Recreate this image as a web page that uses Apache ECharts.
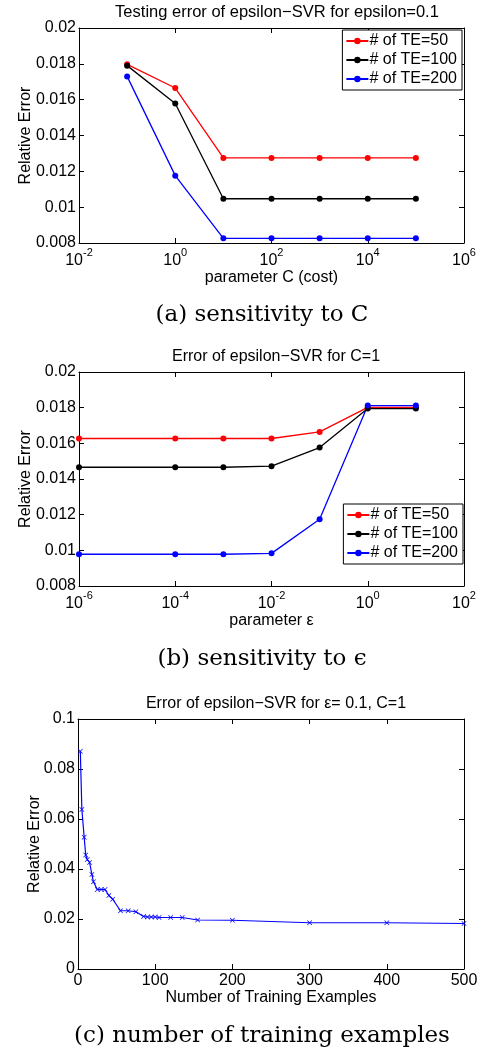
<!DOCTYPE html>
<html>
<head>
<meta charset="utf-8">
<script src="https://cdn.jsdelivr.net/npm/echarts@6/dist/echarts.min.js"></script>
<style>
html, body { margin: 0; padding: 0; background: #ffffff; }
#main { width: 481px; height: 1051px; }
</style>
</head>
<body>
<div id="main"></div>
<script>
// (a) sensitivity to C
const costC = [0.1, 1, 10, 100, 1000, 10000, 100000];
const errC_TE50 = [0.01797, 0.01665, 0.01275, 0.01275, 0.01275, 0.01275, 0.01275];
const errC_TE100 = [0.0179, 0.01579, 0.01047, 0.01047, 0.01047, 0.01047, 0.01047];
const errC_TE200 = [0.0173, 0.01176, 0.00826, 0.00826, 0.00826, 0.00826, 0.00826];

// (b) sensitivity to epsilon
const epsVals = [1e-6, 1e-4, 1e-3, 1e-2, 1e-1, 1, 10];
const errE_TE50 = [0.01627, 0.01627, 0.01627, 0.01627, 0.01664, 0.01802, 0.01802];
const errE_TE100 = [0.01466, 0.01466, 0.01466, 0.01472, 0.01576, 0.01795, 0.01795];
const errE_TE200 = [0.00978, 0.00978, 0.00978, 0.00983, 0.01174, 0.01812, 0.01812];

// (c) number of training examples
const nTrain = [3, 5, 8, 10, 12, 15, 18, 20, 25, 30, 35, 40, 45, 55, 65, 75, 85, 90, 95, 100, 105, 120, 135, 155, 200, 300, 400, 500];
const errN = [0.0871, 0.0638, 0.0527, 0.0456, 0.0438, 0.0426, 0.0378, 0.0349, 0.0318, 0.0318, 0.0318, 0.0294, 0.0279, 0.0233, 0.0233, 0.0229, 0.021, 0.0208, 0.0208, 0.0208, 0.0206, 0.0206, 0.0206, 0.0196, 0.0195, 0.0185, 0.0185, 0.0182];

const teNames = ["# of TE=50", "# of TE=100", "# of TE=200"];
const teColors = ["#ff0000", "#000000", "#0000ff"];

const SANS = "Liberation Sans";
const SERIF = "DejaVu Serif";

let myChart = echarts.init(document.getElementById("main"));

// decimal tick text like matlab (0.02, 0.018 ...)
function decLabel(v) {
  return String(parseFloat(v.toFixed(4)));
}
// 10^n label
function powLabel(v) {
  return "{b|10}{s|" + Math.round(v) + "}";
}
const powRich = {
  b: { fontSize: 16, fontFamily: SANS, color: "#000", verticalAlign: "bottom", lineHeight: 22 },
  s: { fontSize: 11, fontFamily: SANS, color: "#000", verticalAlign: "top", lineHeight: 12 }
};

function axisLine() {
  return { show: true, onZero: false, lineStyle: { color: "#000", width: 1 } };
}
function tickIn() {
  return { show: true, inside: true, length: 5, lineStyle: { color: "#000" } };
}

// bottom + top x axes, left + right y axes for one grid
function xAxes(g, min, max, interval, labelFn, rich, name, nameGap) {
  return [
    {
      type: "value", gridIndex: g, position: "bottom", min: min, max: max, interval: interval,
      axisLine: axisLine(), axisTick: tickIn(), splitLine: { show: false },
      axisLabel: { color: "#000", fontSize: 16, fontFamily: SANS, margin: 4, formatter: labelFn, rich: rich },
      name: name, nameLocation: "middle", nameGap: nameGap,
      nameTextStyle: { color: "#000", fontSize: 16, fontFamily: SANS }
    },
    {
      type: "value", gridIndex: g, position: "top", min: min, max: max, interval: interval,
      axisLine: axisLine(), axisTick: tickIn(), splitLine: { show: false }, axisLabel: { show: false }
    }
  ];
}
function yAxes(g, min, max, interval, nameGap) {
  return [
    {
      type: "value", gridIndex: g, position: "left", min: min, max: max, interval: interval,
      axisLine: axisLine(), axisTick: tickIn(), splitLine: { show: false },
      axisLabel: { color: "#000", fontSize: 16, fontFamily: SANS, margin: 3, formatter: decLabel },
      name: "Relative Error", nameLocation: "middle", nameGap: nameGap, nameRotate: 90,
      nameMoveOverlap: false,
      nameTextStyle: { color: "#000", fontSize: 16, fontFamily: SANS }
    },
    {
      type: "value", gridIndex: g, position: "right", min: min, max: max, interval: interval,
      axisLine: axisLine(), axisTick: tickIn(), splitLine: { show: false }, axisLabel: { show: false }
    }
  ];
}

function teSeries(xIdx, yIdx, xs, lists) {
  return lists.map(function(vals, i) {
    return {
      name: teNames[i], type: "line", xAxisIndex: xIdx, yAxisIndex: yIdx,
      symbol: "circle", symbolSize: 6, showSymbol: true,
      itemStyle: { color: teColors[i] },
      lineStyle: { color: teColors[i], width: 1.3 },
      data: xs.map(function(x, k) { return [Math.log10(x), vals[k]]; })
    };
  });
}

function legendBox(right, top) {
  return {
    data: teNames, orient: "vertical", right: right, top: top,
    backgroundColor: "#fff", borderColor: "#000", borderWidth: 1, borderRadius: 0,
    padding: [3, 5, 3, 3], itemGap: 3, itemWidth: 22, itemHeight: 8,
    textStyle: { color: "#000", fontSize: 16, fontFamily: SANS, padding: [0, 0, 0, -4] },
    selectedMode: false
  };
}

function titleAt(text, left, top, font, size) {
  return {
    text: text, left: left, top: top, textAlign: "center",
    textStyle: { color: "#000", fontWeight: "normal", fontFamily: font, fontSize: size }
  };
}

let option = {
  backgroundColor: "#ffffff",
  animation: false,
  title: [
    titleAt("Testing error of epsilon\u2212SVR for epsilon=0.1", 272, -1, SANS, 16.5),
    titleAt("(a) sensitivity to C", 257, 299, SERIF, 23),
    titleAt("Error of epsilon\u2212SVR for C=1", 271, 344, SANS, 16),
    titleAt("(b) sensitivity to \u03f5", 257, 643, SERIF, 23),
    titleAt("Error of epsilon\u2212SVR for \u03b5= 0.1, C=1", 271, 691, SANS, 16),
    titleAt("(c) number of training examples", 257, 1020, SERIF, 23)
  ],
  grid: [
    { left: 79, right: 17, top: 28, height: 215 },
    { left: 79, right: 17, top: 372, height: 214 },
    { left: 78, right: 17, top: 719, height: 250 }
  ],
  legend: [legendBox(19, 30), legendBox(18, 504)],
  xAxis: [].concat(
    xAxes(0, -2, 6, 2, powLabel, powRich, "parameter C (cost)", 23),
    xAxes(1, -6, 2, 2, powLabel, powRich, "parameter \u03b5", 23),
    xAxes(2, 0, 500, 100, null, null, "Number of Training Examples", 19)
  ),
  yAxis: [].concat(
    yAxes(0, 0.008, 0.02, 0.002, 45),
    yAxes(1, 0.008, 0.02, 0.002, 45),
    yAxes(2, 0, 0.1, 0.02, 35)
  ),
  series: [].concat(
    teSeries(0, 0, costC, [errC_TE50, errC_TE100, errC_TE200]),
    teSeries(2, 2, epsVals, [errE_TE50, errE_TE100, errE_TE200]),
    [{
      name: "error", type: "line", xAxisIndex: 4, yAxisIndex: 4,
      symbol: "path://M0,1L1,0L5,4L9,0L10,1L6,5L10,9L9,10L5,6L1,10L0,9L4,5Z",
      symbolSize: 5, showSymbol: true,
      itemStyle: { color: "#0000ff" },
      lineStyle: { color: "#0000ff", width: 1.2 },
      data: nTrain.map(function(n, k) { return [n, errN[k]]; })
    }]
  )
};
myChart.setOption(option);
</script>
</body>
</html>
